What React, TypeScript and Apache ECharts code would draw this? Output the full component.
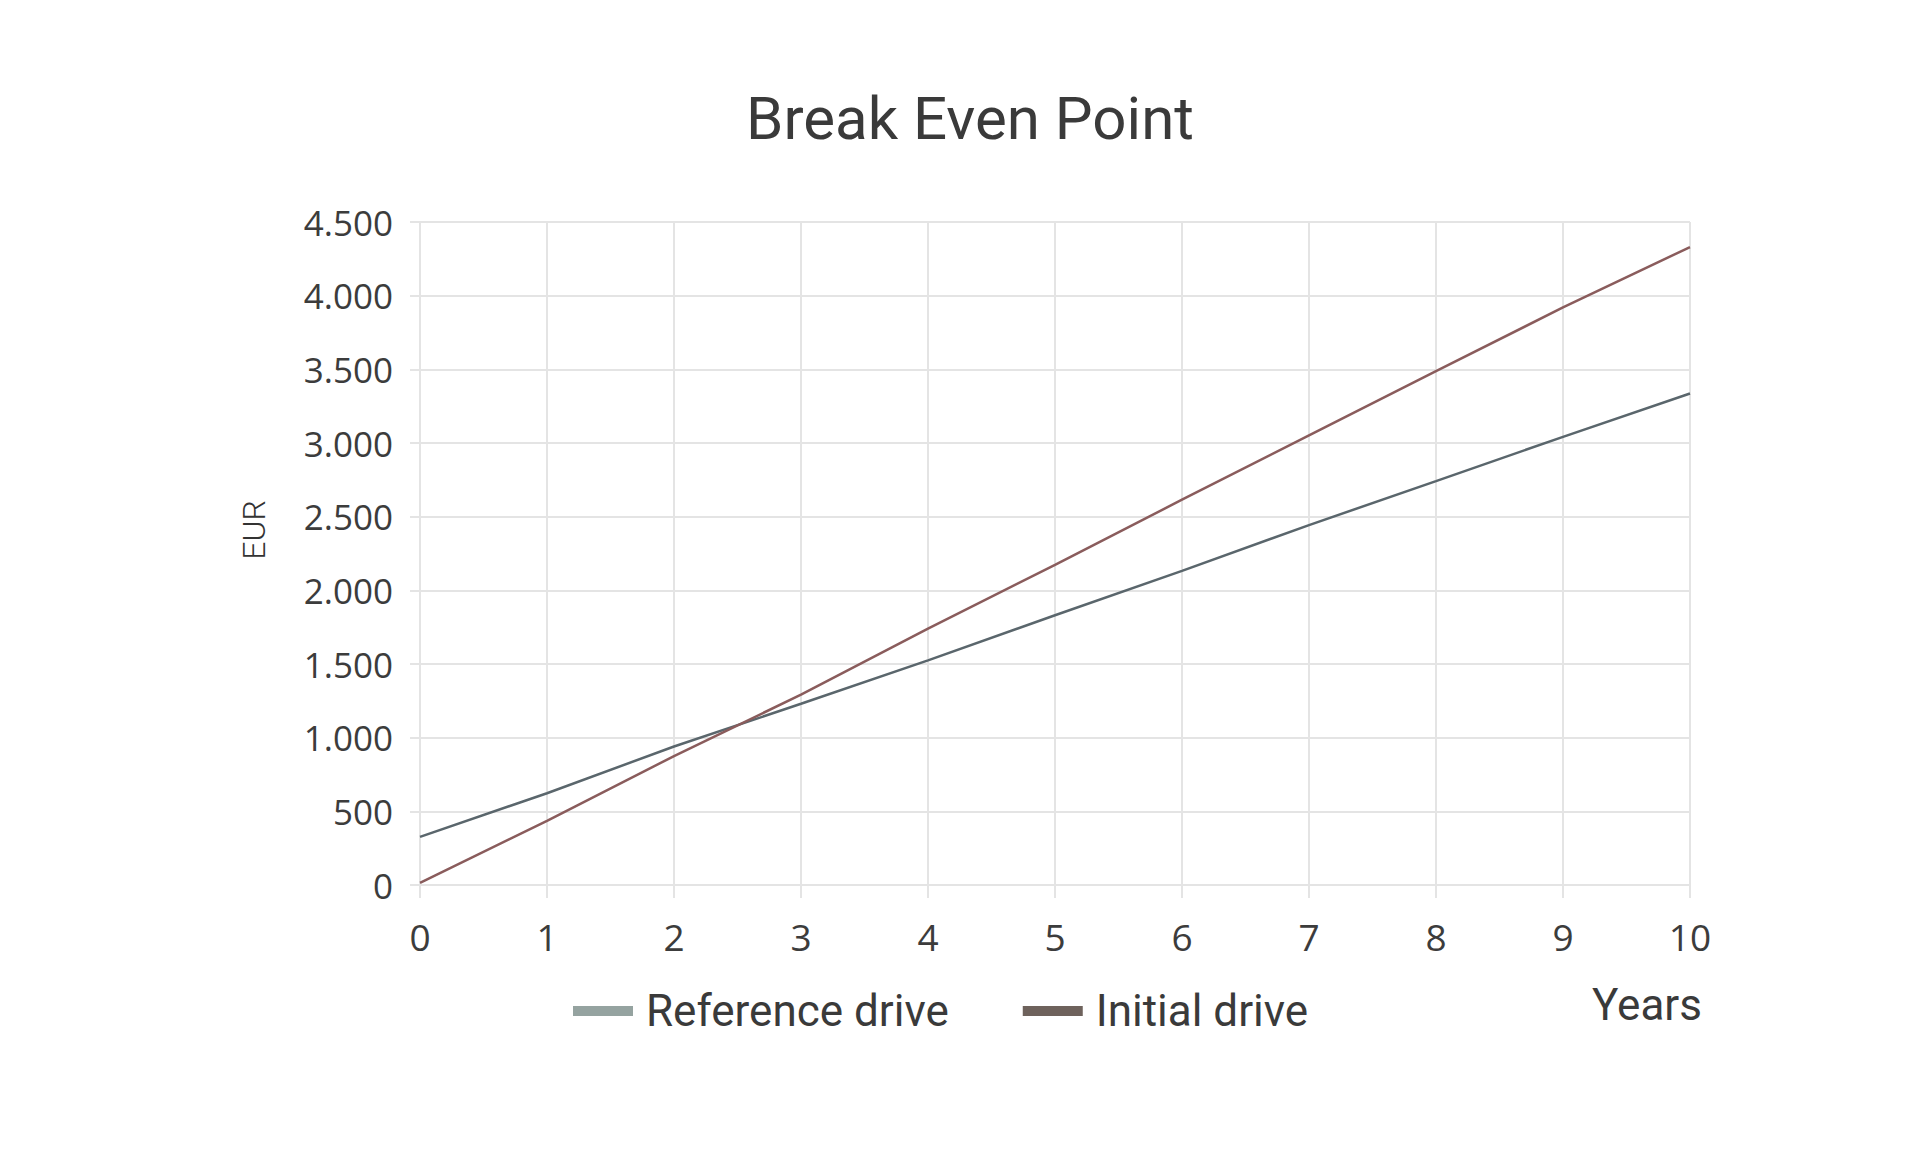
import React, { useEffect, useRef } from "react";
import * as echarts from "echarts";

const years = [0, 1, 2, 3, 4, 5, 6, 7, 8, 9, 10];
const referenceDrive = [327, 623, 940, 1230, 1525, 1831, 2132, 2443, 2741, 3042, 3336];
const initialDrive = [15, 435, 875, 1292, 1740, 2173, 2615, 3052, 3488, 3920, 4330];
const seriesNames = ["Reference drive", "Initial drive"];
const titleText = "Break Even Point";
const yAxisTitle = "EUR";
const xAxisTitle = "Years";

const fmtEUR = (v: number) =>
  v >= 1000 ? Math.floor(v / 1000) + "." + String(v % 1000).padStart(3, "0") : String(v);

export default function App() {
  const ref = useRef<HTMLDivElement>(null);
  useEffect(() => {
    if (!ref.current) return;
    const chart = echarts.init(ref.current, null, { renderer: "svg" });
    const gridColor = "#e4e4e4";
    chart.setOption({
      animation: false,
      backgroundColor: "#ffffff",
      grid: { left: 420, right: 230, top: 222, bottom: 267 },
      graphic: [
        {
          type: "text",
          x: 970,
          y: 118,
          style: {
            text: titleText,
            fontFamily: "Roboto",
            fontSize: 60,
            fill: "#3a3a3a",
            textAlign: "center",
            textVerticalAlign: "middle",
          },
        },
        {
          type: "text",
          x: 254,
          y: 530,
          rotation: Math.PI / 2,
          style: {
            text: yAxisTitle,
            fontFamily: "Roboto",
            fontWeight: 300,
            fontSize: 32,
            fill: "#333333",
            textAlign: "center",
            textVerticalAlign: "middle",
          },
        },
        {
          type: "text",
          x: 1647,
          y: 1005,
          style: {
            text: xAxisTitle,
            fontFamily: "Roboto",
            fontSize: 44,
            fill: "#3a3a3a",
            textAlign: "center",
            textVerticalAlign: "middle",
          },
        },
      ],
      legend: {
        left: 568,
        top: 981,
        itemWidth: 60,
        itemHeight: 10,
        itemGap: 74,
        textStyle: {
          fontFamily: "Roboto",
          fontSize: 44,
          color: "#3a3a3a",
          lineHeight: 50,
          padding: [0, 0, 0, 8],
        },
        data: [
          { name: seriesNames[0], icon: "rect", itemStyle: { color: "#95a3a0" } },
          { name: seriesNames[1], icon: "rect", itemStyle: { color: "#6e625c" } },
        ],
      },
      xAxis: {
        type: "value",
        min: 0,
        max: 10,
        interval: 1,
        axisLine: { show: false },
        axisTick: { show: true, length: 13, lineStyle: { color: gridColor, width: 2 } },
        splitLine: { show: true, lineStyle: { color: gridColor, width: 2 } },
        axisLabel: {
          margin: 31,
          fontFamily: "Open Sans",
          fontSize: 37,
          fontWeight: 500,
          color: "#3c3c3c",
          lineHeight: 40,
        },
      },
      yAxis: {
        type: "value",
        min: 0,
        max: 4500,
        interval: 500,
        axisLine: { show: false },
        axisTick: { show: true, length: 10, lineStyle: { color: gridColor, width: 2 } },
        splitLine: { show: true, lineStyle: { color: gridColor, width: 2 } },
        axisLabel: {
          margin: 27,
          fontFamily: "Open Sans",
          fontSize: 35,
          fontWeight: 500,
          color: "#3c3c3c",
          formatter: (v: number) => fmtEUR(v),
        },
      },
      series: [
        {
          name: seriesNames[0],
          type: "line",
          showSymbol: false,
          data: years.map((y, i) => [y, referenceDrive[i]]),
          lineStyle: { color: "#5a666c", width: 2.5 },
          itemStyle: { color: "#95a3a0" },
        },
        {
          name: seriesNames[1],
          type: "line",
          showSymbol: false,
          data: years.map((y, i) => [y, initialDrive[i]]),
          lineStyle: { color: "#8a5c5c", width: 2.5 },
          itemStyle: { color: "#6e625c" },
        },
      ],
    });
    return () => chart.dispose();
  }, []);
  return (
    <div
      ref={ref}
      style={{ position: "fixed", left: 0, top: 0, width: 1920, height: 1152, background: "#fff" }}
    />
  );
}
